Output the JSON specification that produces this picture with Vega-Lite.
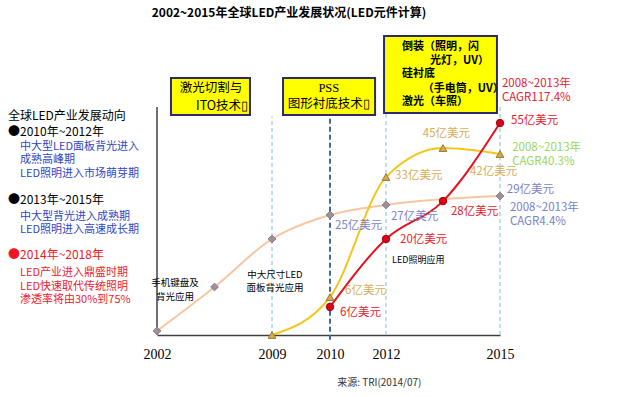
{
  "$schema": "https://vega.github.io/schema/vega-lite/v6.json",
  "width": 640,
  "height": 397,
  "autosize": "none",
  "padding": 0,
  "background": "white",
  "config": {"view": {"stroke": null}, "font": "Noto Sans CJK SC"},
  "title": {
    "text": "2002~2015年全球LED产业发展状况(LED元件计算)",
    "anchor": "middle",
    "frame": "group",
    "offset": -20,
    "dx": -31,
    "fontSize": 12,
    "fontWeight": "bold",
    "font": "Noto Sans CJK SC",
    "color": "#000000"
  },
  "datasets": {
    "series": [
      {"series": "背光应用", "year": 2002, "level": 1.7},
      {"series": "背光应用", "year": 2005.5, "level": 20},
      {"series": "背光应用", "year": 2009, "level": 40},
      {"series": "背光应用", "year": 2010, "level": 50, "value": 25},
      {"series": "背光应用", "year": 2012, "level": 54.2, "value": 27},
      {"series": "背光应用", "year": 2015, "level": 57.9, "value": 29},
      {"series": "新兴应用", "year": 2009, "level": 0},
      {"series": "新兴应用", "year": 2010, "level": 15.8, "value": 6},
      {"series": "新兴应用", "year": 2012, "level": 65.8, "value": 33},
      {"series": "新兴应用", "year": 2013.5, "level": 77.9, "value": 45},
      {"series": "新兴应用", "year": 2015, "level": 75.4, "value": 42},
      {"series": "LED照明", "year": 2010, "level": 11.7, "value": 6},
      {"series": "LED照明", "year": 2012, "level": 40, "value": 20},
      {"series": "LED照明", "year": 2013.5, "level": 55.8, "value": 28},
      {"series": "LED照明", "year": 2015, "level": 88.3, "value": 55}
    ],
    "guides": [
      {"kind": "axis", "year": 2002, "level": 0, "level2": 95},
      {"kind": "light", "year": 2009, "level": 0, "level2": 91},
      {"kind": "dark", "year": 2010, "level": -2, "level2": 90.5},
      {"kind": "light", "year": 2012, "level": 0, "level2": 92.5},
      {"kind": "light", "year": 2015, "level": 0, "level2": 95}
    ],
    "boxes": [
      {"name": "激光切割与ITO技术", "year": 2002.85, "year2": 2007.66, "level": 107.1, "level2": 91.7},
      {"name": "PSS图形衬底技术", "year": 2009.19, "year2": 2011.61, "level": 107.1, "level2": 91.7},
      {"name": "倒装/硅衬底/激光", "year": 2011.93, "year2": 2014.92, "level": 124.6, "level2": 92.5}
    ],
    "labels": [
      {"text": "全球LED产业发展动向", "year": 1992.93, "level": 91.25, "group": "head"},
      {"text": "●2010年~2012年", "year": 1992.93, "level": 84.6, "group": "head"},
      {"text": "●2013年~2015年", "year": 1992.93, "level": 56.25, "group": "head"},
      {"text": "●2014年~2018年", "year": 1992.93, "level": 33.3, "group": "headRed"},
      {"text": "中大型LED面板背光进入", "year": 1993.66, "level": 78.3, "group": "noteBlue"},
      {"text": "成熟高峰期", "year": 1993.66, "level": 72.9, "group": "noteBlue"},
      {"text": "LED照明进入市场萌芽期", "year": 1993.66, "level": 67.1, "group": "noteBlue"},
      {"text": "中大型背光进入成熟期", "year": 1993.66, "level": 49.2, "group": "noteBlue"},
      {"text": "LED照明进入高速成长期", "year": 1993.66, "level": 43.75, "group": "noteBlue"},
      {"text": "LED产业进入鼎盛时期", "year": 1993.66, "level": 25.8, "group": "noteRed"},
      {"text": "LED快速取代传统照明", "year": 1993.66, "level": 20, "group": "noteRed"},
      {"text": "渗透率将由30%到75%", "year": 1993.66, "level": 14.6, "group": "noteRed"},
      {"text": "55亿美元", "year": 2015.29, "level": 89.2, "group": "valRed"},
      {"text": "2008~2013年", "year": 2015.05, "level": 104.6, "group": "valRed"},
      {"text": "CAGR117.4%", "year": 2015.05, "level": 98.75, "group": "valRed"},
      {"text": "28亿美元", "year": 2013.71, "level": 51.25, "group": "valRed"},
      {"text": "20亿美元", "year": 2012.37, "level": 39.6, "group": "valRed"},
      {"text": "6亿美元", "year": 2010.36, "level": 9.2, "group": "valRed"},
      {"text": "45亿美元", "year": 2012.97, "level": 83.75, "group": "valTan"},
      {"text": "42亿美元", "year": 2014.21, "level": 67.9, "group": "valTan"},
      {"text": "33亿美元", "year": 2012.24, "level": 66.25, "group": "valTan"},
      {"text": "6亿美元", "year": 2010.54, "level": 18.3, "group": "valTan"},
      {"text": "2008~2013年", "year": 2015.32, "level": 77.9, "group": "valGreen"},
      {"text": "CAGR40.3%", "year": 2015.32, "level": 72.1, "group": "valGreen"},
      {"text": "29亿美元", "year": 2015.18, "level": 60.4, "group": "valPurple"},
      {"text": "2008~2013年", "year": 2015.26, "level": 52.9, "group": "valPurple"},
      {"text": "CAGR4.4%", "year": 2015.26, "level": 47.1, "group": "valPurple"},
      {"text": "27亿美元", "year": 2012.13, "level": 49.2, "group": "valPurple"},
      {"text": "25亿美元", "year": 2010.18, "level": 45.4, "group": "valPurple"},
      {"text": "LED照明应用", "year": 2012.16, "level": 31.25, "group": "noteBlack"},
      {"text": "手机键盘及", "year": 2003.1, "level": 21.5, "group": "app"},
      {"text": "背光应用", "year": 2003.1, "level": 16.0, "group": "app"},
      {"text": "中大尺寸LED", "year": 2009.05, "level": 24.9, "group": "app"},
      {"text": "面板背光应用", "year": 2009.05, "level": 19.7, "group": "app"},
      {"text": "激光切割与", "year": 2005.29, "level": 103.1, "group": "box"},
      {"text": "ITO技术▯", "year": 2005.96, "level": 95.6, "group": "box"},
      {"text": "图形衬底技术▯", "year": 2009.98, "level": 96.4, "group": "box"},
      {"text": "PSS", "year": 2009.98, "level": 102.8, "group": "boxSerif"},
      {"text": "倒装（照明，闪", "year": 2012.42, "level": 120, "group": "box3"},
      {"text": "光灯，UV）", "year": 2013.16, "level": 114.2, "group": "box3"},
      {"text": "硅衬底", "year": 2012.42, "level": 108.75, "group": "box3"},
      {"text": "（手电筒，UV）", "year": 2012.97, "level": 102.5, "group": "box3"},
      {"text": "激光（车照）", "year": 2012.42, "level": 97.1, "group": "box3"},
      {"text": "来源:  TRI(2014/07)", "year": 2011.76, "level": -20, "group": "source"}
    ]
  },
  "encoding": {
    "x": {
      "field": "year",
      "type": "quantitative",
      "scale": {"domain": [2002, 2009, 2010, 2012, 2015], "range": [157, 272, 330, 386, 500], "nice": false, "zero": false},
      "axis": {
        "values": [2002, 2009, 2010, 2012, 2015],
        "format": "d",
        "title": null,
        "offset": -62,
        "grid": false,
        "ticks": false,
        "domainColor": "#404040",
        "domainWidth": 1.5,
        "labelFont": "Liberation Serif",
        "labelFontSize": 14,
        "labelColor": "#000000",
        "labelPadding": 12,
        "labelFlush": false,
        "labelOverlap": false,
        "labelBound": false
      }
    },
    "y": {
      "field": "level",
      "type": "quantitative",
      "scale": {"domain": [0, 100], "range": [335, 95], "nice": false, "zero": false},
      "axis": null
    }
  },
  "layer": [
    {
      "data": {"name": "guides"},
      "transform": [{"filter": "datum.kind == 'light'"}],
      "mark": {"type": "rule", "color": "#a9d3e4", "strokeWidth": 1.5, "strokeDash": [4, 3]},
      "encoding": {"y2": {"field": "level2"}}
    },
    {
      "data": {"name": "guides"},
      "transform": [{"filter": "datum.kind == 'dark'"}],
      "mark": {"type": "rule", "color": "#3d66a4", "strokeWidth": 2, "strokeDash": [5, 3]},
      "encoding": {"y2": {"field": "level2"}}
    },
    {
      "data": {"name": "guides"},
      "transform": [{"filter": "datum.kind == 'axis'"}],
      "mark": {"type": "rule", "color": "#404040", "strokeWidth": 1.5},
      "encoding": {"y2": {"field": "level2"}}
    },
    {
      "data": {"name": "boxes"},
      "mark": {"type": "rect", "fill": "#ffff00", "stroke": "#2b2b6e", "strokeWidth": 2},
      "encoding": {"x2": {"field": "year2"}, "y2": {"field": "level2"}}
    },
    {
      "data": {"name": "series"},
      "mark": {"type": "line", "interpolate": "monotone", "strokeWidth": 2},
      "encoding": {
        "color": {
          "field": "series",
          "type": "nominal",
          "scale": {"domain": ["背光应用", "新兴应用", "LED照明"], "range": ["#f8c6a0", "#f5c518", "#e8101c"]},
          "legend": null
        }
      }
    },
    {
      "data": {"name": "series"},
      "transform": [{"filter": "datum.series == '背光应用'"}],
      "mark": {"type": "point", "shape": "diamond", "filled": true, "fill": "#a0909c", "stroke": "#8a7a88", "strokeWidth": 1, "size": 60, "opacity": 1}
    },
    {
      "data": {"name": "series"},
      "transform": [{"filter": "datum.series == '新兴应用'"}],
      "mark": {"type": "point", "shape": "triangle-up", "filled": true, "fill": "#d4ac4a", "stroke": "#9a7a30", "strokeWidth": 1, "size": 60, "opacity": 1}
    },
    {
      "data": {"name": "series"},
      "transform": [{"filter": "datum.series == 'LED照明'"}],
      "mark": {"type": "point", "shape": "circle", "filled": true, "fill": "#e00014", "stroke": "#a00010", "strokeWidth": 1, "size": 55, "opacity": 1}
    },
    {
      "data": {"name": "labels"},
      "transform": [{"filter": "datum.group == 'head'"}],
      "mark": {"type": "text", "align": "left", "baseline": "middle", "fontSize": 12, "color": "#000000"},
      "encoding": {"text": {"field": "text"}}
    },
    {
      "data": {"name": "labels"},
      "transform": [{"filter": "datum.group == 'headRed'"}],
      "mark": {"type": "text", "align": "left", "baseline": "middle", "fontSize": 12, "color": "#f01525"},
      "encoding": {"text": {"field": "text"}}
    },
    {
      "data": {"name": "labels"},
      "transform": [{"filter": "datum.group == 'noteBlue'"}],
      "mark": {"type": "text", "align": "left", "baseline": "middle", "fontSize": 11, "color": "#2e46c4"},
      "encoding": {"text": {"field": "text"}}
    },
    {
      "data": {"name": "labels"},
      "transform": [{"filter": "datum.group == 'noteRed'"}],
      "mark": {"type": "text", "align": "left", "baseline": "middle", "fontSize": 11, "color": "#f02030"},
      "encoding": {"text": {"field": "text"}}
    },
    {
      "data": {"name": "labels"},
      "transform": [{"filter": "datum.group == 'valRed'"}],
      "mark": {"type": "text", "align": "left", "baseline": "middle", "fontSize": 11.5, "color": "#e8202e"},
      "encoding": {"text": {"field": "text"}}
    },
    {
      "data": {"name": "labels"},
      "transform": [{"filter": "datum.group == 'valTan'"}],
      "mark": {"type": "text", "align": "left", "baseline": "middle", "fontSize": 11.5, "color": "#d6ae58"},
      "encoding": {"text": {"field": "text"}}
    },
    {
      "data": {"name": "labels"},
      "transform": [{"filter": "datum.group == 'valGreen'"}],
      "mark": {"type": "text", "align": "left", "baseline": "middle", "fontSize": 11.5, "color": "#98d65a"},
      "encoding": {"text": {"field": "text"}}
    },
    {
      "data": {"name": "labels"},
      "transform": [{"filter": "datum.group == 'valPurple'"}],
      "mark": {"type": "text", "align": "left", "baseline": "middle", "fontSize": 11.5, "color": "#7b7fc8"},
      "encoding": {"text": {"field": "text"}}
    },
    {
      "data": {"name": "labels"},
      "transform": [{"filter": "datum.group == 'noteBlack'"}],
      "mark": {"type": "text", "align": "left", "baseline": "middle", "fontSize": 9, "color": "#000000"},
      "encoding": {"text": {"field": "text"}}
    },
    {
      "data": {"name": "labels"},
      "transform": [{"filter": "datum.group == 'app'"}],
      "mark": {"type": "text", "align": "center", "baseline": "middle", "fontSize": 9.5, "color": "#000000"},
      "encoding": {"text": {"field": "text"}}
    },
    {
      "data": {"name": "labels"},
      "transform": [{"filter": "datum.group == 'box'"}],
      "mark": {"type": "text", "align": "center", "baseline": "middle", "fontSize": 12.5, "color": "#000000"},
      "encoding": {"text": {"field": "text"}}
    },
    {
      "data": {"name": "labels"},
      "transform": [{"filter": "datum.group == 'boxSerif'"}],
      "mark": {"type": "text", "align": "center", "baseline": "middle", "fontSize": 12.5, "font": "Liberation Serif", "color": "#000000"},
      "encoding": {"text": {"field": "text"}}
    },
    {
      "data": {"name": "labels"},
      "transform": [{"filter": "datum.group == 'box3'"}],
      "mark": {"type": "text", "align": "left", "baseline": "middle", "fontSize": 11, "fontWeight": "bold", "color": "#000000"},
      "encoding": {"text": {"field": "text"}}
    },
    {
      "data": {"name": "labels"},
      "transform": [{"filter": "datum.group == 'source'"}],
      "mark": {"type": "text", "align": "center", "baseline": "middle", "fontSize": 10, "color": "#333333"},
      "encoding": {"text": {"field": "text"}}
    }
  ]
}
